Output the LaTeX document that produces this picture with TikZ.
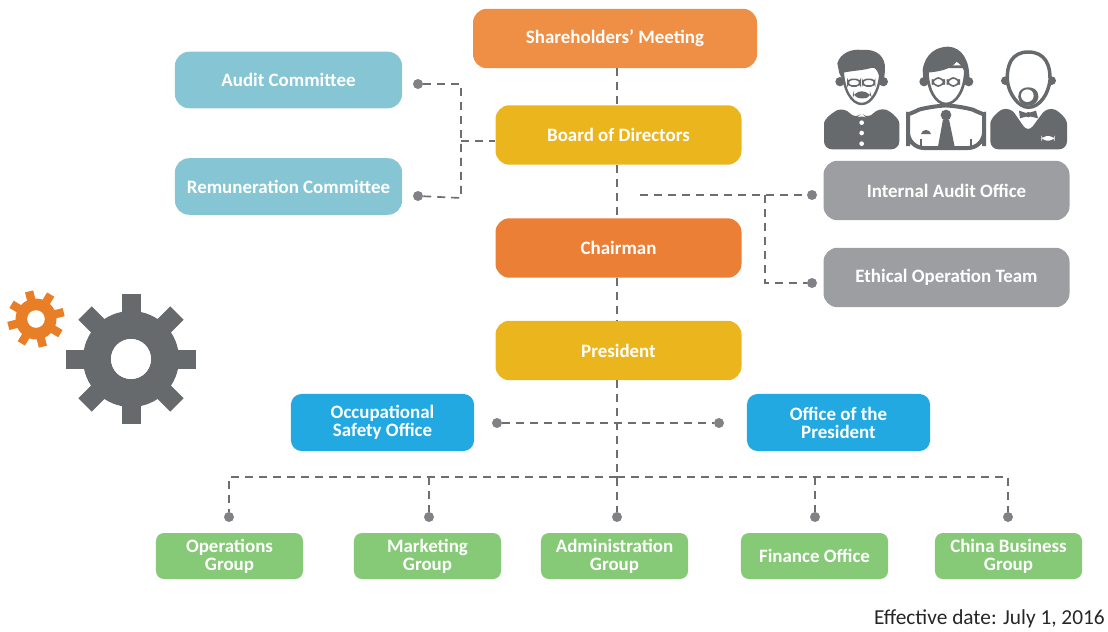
\documentclass[tikz,border=0pt]{standalone}
\usepackage{fontspec}
\setmainfont{Carlito}
\definecolor{cOrangeA}{HTML}{EE8F45}
\definecolor{cOrangeB}{HTML}{EB7F35}
\definecolor{cTeal}{HTML}{86C5D3}
\definecolor{cGold}{HTML}{EBB51D}
\definecolor{cGray}{HTML}{9D9EA1}
\definecolor{cBlue}{HTML}{23A9E1}
\definecolor{cGreen}{HTML}{86C977}
\definecolor{cLine}{HTML}{6D6E71}
\definecolor{cDot}{HTML}{808285}
\definecolor{cIcon}{HTML}{676A6D}
\definecolor{cGear}{HTML}{E87F26}
\tikzset{
 boxbase/.style={rounded corners=10.5pt,inner sep=0pt,align=center,text=white,
   font=\fontsize{14.2}{13.6}\selectfont\bfseries},
 topbox/.style={boxbase,minimum width=184.5pt,minimum height=44.6pt},
 teamb/.style={boxbase,minimum width=170.3pt,minimum height=42.4pt,fill=cTeal},
 blueb/.style={boxbase,minimum width=137.3pt,minimum height=42.8pt,fill=cBlue,rounded corners=8pt},
 greenb/.style={boxbase,minimum width=110.3pt,minimum height=34.5pt,fill=cGreen,rounded corners=6pt},
 dashline/.style={draw=cLine,line width=1.25pt,dash pattern=on 6pt off 4.5pt},
 dotnode/.style={circle,fill=cDot,minimum size=7.5pt,inner sep=0pt},
 iconfill/.style={fill=cIcon,draw=none},
}
\newcommand{\gearshape}[6]{% cx cy outer body hole tooth half-angle rot
 \fill[#6,even odd rule] (#1,#2) circle[radius=#5]
   (#1,#2) circle[radius=#4];
}
\begin{document}
\begin{tikzpicture}[x=0.75pt,y=-0.75pt]
\useasboundingbox (0,0) rectangle (1108,632);
% connectors first
\node[topbox,fill=cOrangeA,minimum width=213pt] (sh) at (615,38.5) {Shareholders' Meeting};
\node[topbox,fill=cGold] (bd) at (618.5,135) {Board of Directors};
\node[topbox,fill=cOrangeB] (ch) at (618.5,248) {Chairman};
\node[topbox,fill=cGold] (pr) at (618.5,350.5) {President};
\node[teamb] (au) at (288.5,80) {Audit Committee};
\node[teamb] (re) at (288.5,186.5) {Remuneration Committee};
\node[topbox,fill=cGray] (ia) at (946.5,190.5) {Internal Audit Office};
\node[topbox,fill=cGray] (et) at (946.5,277.5) {Ethical Operation Team};
\node[blueb] (oc) at (382.5,422.5) {Occupational\\Safety Office};
\node[blueb] (of) at (838.5,422.5) {Office of the\\President};
\node[greenb] (g1) at (229.5,556) {Operations\\Group};
\node[greenb] (g2) at (427.5,556) {Marketing\\Group};
\node[greenb] (g3) at (614.5,556) {Administration\\Group};
\node[greenb] (g4) at (814.5,556) {Finance Office};
\node[greenb] (g5) at (1008.5,556) {China Business\\Group};
\node[anchor=south east,inner sep=0pt,font=\fontsize{16}{18}\selectfont,text=black!85] (dt) at (1105,628) {Effective date: July 1, 2016};
% dots
\node[dotnode] (d1) at (418,84) {};
\node[dotnode] (d2) at (418,196) {};
\node[dotnode] (d3) at (812,195) {};
\node[dotnode] (d4) at (812,283) {};
\node[dotnode] (d5) at (497,423) {};
\node[dotnode] (d6) at (719,423) {};
\node[dotnode] (d7) at (229,517) {};
\node[dotnode] (d8) at (429,517) {};
\node[dotnode] (d9) at (617,517) {};
\node[dotnode] (d10) at (815,517) {};
\node[dotnode] (d11) at (1008,517) {};
\coordinate (tA) at (640,195);
\coordinate (tB) at (765,195);
\coordinate (tC) at (461,141);
\coordinate (tD) at (617,477);
% main trunk
\draw[dashline] (617,68) -- (617,105);
\draw[dashline] (617,165) -- (617,218);
\draw[dashline] (617,278) -- (617,321);
\draw[dashline] (617,380) -- (d9);
% left committees
\draw[dashline] (d1) -- (461,84) -- (tC);
\draw[dashline] (d2) -- (461,198) -- (tC);
\draw[dashline] (tC) -- (bd.west |- tC);
% right offices
\draw[dashline] (tA) -- (d3);
\draw[dashline] (tB) -- (765,283) -- (d4);
% president staff
\draw[dashline] (d5) -- (d6);
% groups
\draw[dashline] (tD) -- (229,477) -- (d7);
\draw[dashline] (tD) -- (1008,477) -- (d11);
\draw[dashline] (429,477) -- (d8);
\draw[dashline] (815,477) -- (d10);
% big gear
\begin{scope}[shift={(131,359)}]
 \fill[cIcon,even odd rule] (0,0) circle[radius=48] (0,0) circle[radius=20];
 \foreach \a in {0,45,...,315}{
  \fill[cIcon,rotate=\a] (-9.5,-65) rectangle (9.5,-44);
 }
 \fill[white] (0,0) circle[radius=20];
\end{scope}
% small gear
\begin{scope}[shift={(36,319)}]
 \fill[cGear] (0,0) circle[radius=20.5];
 \foreach \a in {0,45,...,315}{
  \fill[cGear,rotate=\a+14] (-4.2,-28.5) rectangle (4.2,-18);
 }
 \fill[white] (0,0) circle[radius=8.8];
\end{scope}
% people, coordinates from a 3x view
\begin{scope}[shift={(810,30)},x=0.25pt,y=-0.25pt]
 % person 1
 \fill[cIcon,rounded corners=6pt] (42,358) -- (42,305) .. controls (42,265) and (75,243) .. (105,232) -- (135,268) -- (155,250) -- (175,268) -- (205,232) .. controls (240,243) and (268,265) .. (268,305) -- (268,358) -- cycle;
 \foreach \yy in {278,309,341}{\fill[white] (155,\yy) circle[radius=7];}
 \fill[cIcon] (90,155) circle[radius=14] (220,155) circle[radius=14];
 \fill[white,draw=cIcon,line width=1.8pt] (98,110) .. controls (98,180) and (125,222) .. (155,222) .. controls (185,222) and (212,180) .. (212,110) -- cycle;
 \fill[cIcon] (82,100) .. controls (90,70) and (125,55) .. (155,60) .. controls (200,55) and (228,80) .. (225,120) -- (222,150) -- (210,150) .. controls (205,125) and (200,118) .. (190,112) .. controls (160,122) and (125,122) .. (100,128) -- (98,150) -- (88,130) -- cycle;
 \draw[cIcon,line width=1.2pt,rounded corners=3pt] (114,148) rectangle (150,168) (158,148) rectangle (194,168);
 \fill[cIcon,rounded corners=6pt] (130,184) -- (180,184) -- (186,205) -- (128,205) -- cycle;
 % person 2
 \fill[white,draw=cIcon,line width=3pt,rounded corners=12pt] (294,354) -- (294,300) .. controls (294,255) and (330,238) .. (372,226) -- (444,226) .. controls (485,238) and (522,255) .. (522,300) -- (522,354) -- cycle;
 \fill[cIcon] (408,255) circle[radius=16];
 \fill[cIcon] (399,268) -- (417,268) -- (434,350) -- (384,350) -- cycle;
 \fill[cIcon] (333,312) .. controls (336,296) and (360,296) .. (363,312) -- cycle;
 \draw[cIcon,line width=1.4pt] (332,326) -- (332,350) (483,326) -- (483,350);
 \fill[cIcon] (342,155) circle[radius=14] (476,155) circle[radius=14];
 \fill[white,draw=cIcon,line width=2pt] (352,110) .. controls (350,180) and (378,222) .. (408,222) .. controls (438,222) and (468,180) .. (466,110) -- cycle;
 \fill[cIcon] (338,120) .. controls (345,70) and (380,50) .. (415,50) .. controls (455,52) and (480,90) .. (478,150) -- (468,150) .. controls (465,120) and (455,105) .. (440,95) .. controls (420,120) and (385,125) .. (352,128) -- (350,150) -- (340,150) -- cycle;
 \draw[cIcon,line width=1.2pt,rounded corners=5pt] (367,144) rectangle (403,168) (412,144) rectangle (448,168);
 % person 3
 \fill[cIcon,rounded corners=6pt] (541,358) -- (541,305) .. controls (541,265) and (565,243) .. (600,230) -- (654,308) -- (712,230) .. controls (745,243) and (771,265) .. (771,305) -- (771,358) -- cycle;
 \fill[cIcon] (627,242) -- (652,250) -- (678,242) -- (684,265) -- (655,258) -- (630,265) -- cycle;
 \fill[cIcon] (655,254) circle[radius=8];
 \fill[white,rounded corners=4pt] (694,318) rectangle (734,332);
 \fill[cIcon] (586,152) circle[radius=13] (725,152) circle[radius=13];
 \draw[cIcon,line width=2.6pt,fill=white] (655,66) .. controls (605,66) and (590,105) .. (592,150) .. controls (595,190) and (625,232) .. (655,232) .. controls (690,232) and (716,190) .. (720,150) .. controls (722,105) and (705,66) .. (655,66) -- cycle;
 \fill[cIcon] (655,172) .. controls (625,172) and (620,200) .. (628,212) .. controls (640,232) and (670,232) .. (682,212) .. controls (690,200) and (685,172) .. (655,172) -- cycle;
 \fill[white] (652,197) circle[radius=19];
\end{scope}
\end{tikzpicture}
\end{document}
